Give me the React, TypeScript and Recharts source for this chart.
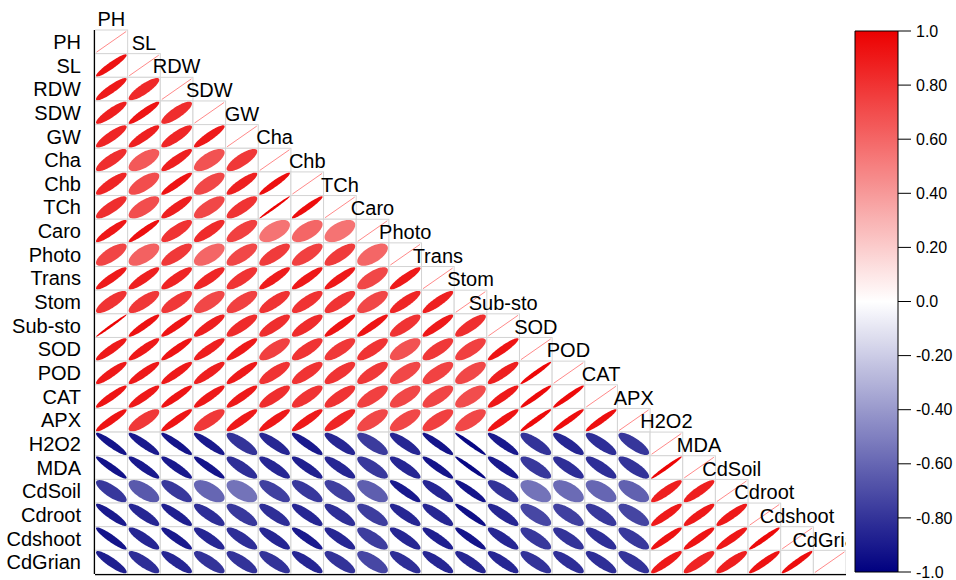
import React from 'react';
import { ScatterChart, Scatter, XAxis, YAxis, ReferenceLine, ReferenceArea } from 'recharts';

const variables = ['PH', 'SL', 'RDW', 'SDW', 'GW', 'Cha', 'Chb', 'TCh', 'Caro', 'Photo', 'Trans', 'Stom', 'Sub-sto', 'SOD', 'POD', 'CAT', 'APX', 'H2O2', 'MDA', 'CdSoil', 'Cdroot', 'Cdshoot', 'CdGrian'];

// lower-triangle correlations (row variable vs. earlier column variables)
const rSL = [0.93];
const rRDW = [0.9, 0.84];
const rSDW = [0.88, 0.92, 0.82];
const rGW = [0.86, 0.88, 0.85, 0.9];
const rCha = [0.82, 0.65, 0.88, 0.68, 0.78];
const rChb = [0.85, 0.7, 0.92, 0.72, 0.87, 0.94];
const rTCh = [0.82, 0.7, 0.88, 0.72, 0.8, 0.99, 0.95];
const rCaro = [0.91, 0.94, 0.8, 0.83, 0.75, 0.55, 0.6, 0.55];
const rPhoto = [0.73, 0.62, 0.78, 0.6, 0.72, 0.77, 0.75, 0.77, 0.6];
const rTrans = [0.9, 0.88, 0.86, 0.85, 0.8, 0.89, 0.9, 0.9, 0.72, 0.9];
const rStom = [0.8, 0.78, 0.78, 0.72, 0.75, 0.8, 0.8, 0.8, 0.72, 0.85, 0.88];
const rSubsto = [0.99, 0.93, 0.92, 0.88, 0.83, 0.82, 0.83, 0.92, 0.92, 0.8, 0.9, 0.82];
const rSOD = [0.9, 0.9, 0.92, 0.88, 0.9, 0.75, 0.8, 0.78, 0.8, 0.68, 0.78, 0.75, 0.92];
const rPOD = [0.9, 0.9, 0.9, 0.88, 0.9, 0.8, 0.8, 0.8, 0.78, 0.72, 0.74, 0.72, 0.88, 0.97];
const rCAT = [0.92, 0.9, 0.92, 0.9, 0.9, 0.82, 0.8, 0.8, 0.75, 0.72, 0.73, 0.7, 0.9, 0.96, 0.96];
const rAPX = [0.92, 0.78, 0.92, 0.78, 0.9, 0.9, 0.9, 0.85, 0.72, 0.72, 0.75, 0.72, 0.92, 0.96, 0.95, 0.94];
const rH2O2 = [-0.92, -0.9, -0.92, -0.9, -0.8, -0.85, -0.9, -0.85, -0.77, -0.85, -0.92, -0.97, -0.9, -0.8, -0.85, -0.82, -0.79];
const rMDA = [-0.93, -0.9, -0.9, -0.92, -0.82, -0.85, -0.88, -0.85, -0.78, -0.85, -0.92, -0.97, -0.9, -0.78, -0.82, -0.82, -0.8, 0.98];
const rCdSoil = [-0.78, -0.65, -0.78, -0.6, -0.55, -0.75, -0.78, -0.75, -0.63, -0.9, -0.85, -0.92, -0.8, -0.55, -0.58, -0.6, -0.62, 0.88, 0.88];
const rCdroot = [-0.9, -0.85, -0.88, -0.82, -0.78, -0.82, -0.85, -0.82, -0.76, -0.85, -0.85, -0.94, -0.85, -0.72, -0.75, -0.78, -0.73, 0.9, 0.9, 0.9];
const rCdshoot = [-0.92, -0.85, -0.9, -0.85, -0.82, -0.85, -0.9, -0.85, -0.76, -0.85, -0.88, -0.92, -0.85, -0.78, -0.8, -0.82, -0.78, 0.93, 0.92, 0.91, 0.96];
const rCdGrian = [-0.88, -0.82, -0.85, -0.8, -0.8, -0.8, -0.85, -0.8, -0.72, -0.82, -0.85, -0.85, -0.85, -0.8, -0.82, -0.82, -0.8, 0.9, 0.86, 0.88, 0.93, 0.95];

const lowerRows: number[][] = [[], rSL, rRDW, rSDW, rGW, rCha, rChb, rTCh, rCaro, rPhoto, rTrans, rStom, rSubsto, rSOD, rPOD, rCAT, rAPX, rH2O2, rMDA, rCdSoil, rCdroot, rCdshoot, rCdGrian];

const colorbarTicks = [-1, -0.8, -0.6, -0.4, -0.2, 0, 0.2, 0.4, 0.6, 0.8, 1];
const colorbarLabels = ['-1.0', '-0.80', '-0.60', '-0.40', '-0.20', '0.0', '0.20', '0.40', '0.60', '0.80', '1.0'];

// geometry
const N = variables.length;
const GRID_LEFT = 95;
const GRID_RIGHT = 846;
const GRID_TOP = 30;
const GRID_BOTTOM = 574;
const CELL_W = (GRID_RIGHT - GRID_LEFT) / N;
const CELL_H = (GRID_BOTTOM - GRID_TOP) / N;
const FONT = '"Liberation Sans", Arial, sans-serif';

function corrColor(r: number): string {
  if (r >= 0) {
    const t = Math.min(1, r);
    const R = Math.round(255 + (236 - 255) * t);
    const G = Math.round(255 * (1 - t));
    return `rgb(${R},${G},${G})`;
  }
  const t = Math.min(1, -r);
  const v = Math.round(255 * (1 - t));
  const B = Math.round(255 + (128 - 255) * t);
  return `rgb(${v},${v},${B})`;
}

const cells: { x: number; y: number; r: number; diag: boolean }[] = [];
for (let i = 0; i < N; i++) {
  for (let j = 0; j <= i; j++) {
    cells.push({ x: j + 0.5, y: i + 0.5, r: i === j ? 1 : lowerRows[i][j], diag: i === j });
  }
}
const colLabels = variables.map((name, j) => ({ x: j + 0.5, y: j - 0.5, name }));

const CellShape = (props: any) => {
  const { cx, cy, payload } = props;
  if (cx == null || cy == null) return null;
  const w = CELL_W;
  const h = CELL_H;
  const x0 = cx - w / 2;
  const y0 = cy - h / 2;
  const rect = <rect x={x0} y={y0} width={w} height={h} fill="#fff" stroke="#D4D4D4" strokeWidth={1} />;
  if (payload.diag) {
    return (
      <g>
        {rect}
        <line x1={x0 + 1.5} y1={y0 + h - 1.5} x2={x0 + w - 1.5} y2={y0 + 1.5} stroke="#FF8A8A" strokeWidth={1} />
      </g>
    );
  }
  const r = payload.r;
  const d = Math.acos(r);
  const ax = (w / 2) * 0.94;
  const ay = (h / 2) * 0.94;
  let path = '';
  const steps = 80;
  for (let k = 0; k <= steps; k++) {
    const t = (2 * Math.PI * k) / steps;
    const px = cx + ax * Math.cos(t + d / 2);
    const py = cy - ay * Math.cos(t - d / 2);
    path += (k === 0 ? 'M' : 'L') + px.toFixed(2) + ',' + py.toFixed(2);
  }
  path += 'Z';
  return (
    <g>
      {rect}
      <path d={path} fill={corrColor(r)} stroke="none" />
    </g>
  );
};

const LabelShape = (props: any) => {
  const { cx, cy, payload } = props;
  if (cx == null || cy == null) return null;
  return (
    <text x={cx} y={cy + 1} textAnchor="middle" dominantBaseline="central" fontSize={20} fontFamily={FONT} fill="#000">
      {payload.name}
    </text>
  );
};

const gradStops = Array.from({ length: 41 }, (_, k) => k / 40);

export default function App() {
  return (
    <div style={{ position: 'absolute', left: 0, top: 0, width: 956, height: 580, background: '#fff' }}>
      <div style={{ position: 'absolute', left: 0, top: 0 }}>
        <ScatterChart width={956} height={580} margin={{ top: GRID_TOP - CELL_H, right: 956 - GRID_RIGHT, bottom: 580 - GRID_BOTTOM, left: 0 }}>
          <XAxis type="number" dataKey="x" domain={[0, N]} hide allowDataOverflow />
          <YAxis
            type="number"
            dataKey="y"
            domain={[-1, N]}
            reversed
            allowDataOverflow
            width={GRID_LEFT}
            ticks={variables.map((_, i) => i + 0.5)}
            tickFormatter={(v: number) => variables[Math.round(v - 0.5)] ?? ''}
            interval={0}
            axisLine={false}
            tickLine={false}
            tickSize={0}
            tickMargin={14}
            tick={{ fontSize: 20, fill: '#000', fontFamily: FONT }}
          />
          <Scatter data={cells} shape={CellShape} isAnimationActive={false} />
          <Scatter data={colLabels} shape={LabelShape} isAnimationActive={false} />
          <ReferenceLine segment={[{ x: 0, y: 0 }, { x: 0, y: N }]} stroke="#000" strokeWidth={2.5} ifOverflow="visible" />
          <ReferenceLine segment={[{ x: 0, y: N }, { x: N, y: N }]} stroke="#000" strokeWidth={2.5} ifOverflow="visible" />
        </ScatterChart>
      </div>
      <div style={{ position: 'absolute', left: 0, top: 0 }}>
        <ScatterChart width={956} height={580} margin={{ top: 31, right: 0, bottom: 8, left: 855 }}>
          <defs>
            <linearGradient id="cbGrad" x1="0" y1="0" x2="0" y2="1">
              {gradStops.map((o) => (
                <stop key={o} offset={o} stopColor={corrColor(1 - 2 * o)} />
              ))}
            </linearGradient>
          </defs>
          <XAxis type="number" dataKey="x" domain={[0, 1]} hide />
          <YAxis
            type="number"
            dataKey="y"
            orientation="right"
            domain={[-1, 1]}
            ticks={colorbarTicks}
            tickFormatter={(v: number) => colorbarLabels[colorbarTicks.findIndex((t) => Math.abs(t - v) < 1e-6)] ?? ''}
            interval={0}
            width={58}
            axisLine={false}
            tickLine={{ stroke: '#000', strokeWidth: 1 }}
            tickSize={13}
            tickMargin={5}
            tick={{ fontSize: 16, fill: '#000', fontFamily: FONT }}
          />
          <ReferenceArea x1={0} x2={1} y1={-1} y2={1} fill="url(#cbGrad)" fillOpacity={1} stroke="#000" strokeWidth={1} ifOverflow="visible" />
          <Scatter data={colorbarTicks.map((v) => ({ x: 0.5, y: v }))} shape={() => null} isAnimationActive={false} />
        </ScatterChart>
      </div>
    </div>
  );
}
